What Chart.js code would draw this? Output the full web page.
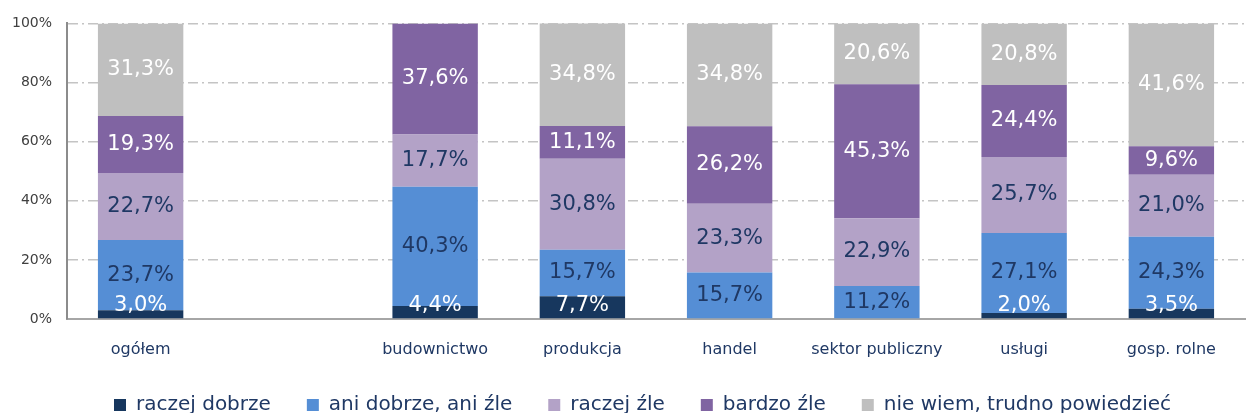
<!DOCTYPE html>
<html lang="pl">
<head>
<meta charset="utf-8">
<script src="https://cdn.jsdelivr.net/npm/chart.js@4/dist/chart.umd.min.js"></script>
<style>
  html, body { margin: 0; padding: 0; background: #fff; }
  #wrap { width: 1249px; height: 417px; }
</style>
</head>
<body>
<div id="wrap"><canvas id="chart"></canvas></div>
<script>
// Categories (empty slot after "ogółem")
const categories = ["ogółem", "", "budownictwo", "produkcja", "handel", "sektor publiczny", "usługi", "gosp. rolne"];

// Answer shares, %
const raczejDobrze = [3.0, null, 4.4, 7.7, 0, 0, 2.0, 3.5];
const aniDobrzeAniZle = [23.7, null, 40.3, 15.7, 15.7, 11.2, 27.1, 24.3];
const raczejZle = [22.7, null, 17.7, 30.8, 23.3, 22.9, 25.7, 21.0];
const bardzoZle = [19.3, null, 37.6, 11.1, 26.2, 45.3, 24.4, 9.6];
const nieWiem = [31.3, null, 0, 34.8, 34.8, 20.6, 20.8, 41.6];

const yTicks = [0, 20, 40, 60, 80, 100];

const NAVY = "#1f3864";

const series = [
    { label: "raczej dobrze", data: raczejDobrze, color: "#17375e", text: "#ffffff" },
    { label: "ani dobrze, ani źle", data: aniDobrzeAniZle, color: "#558ed5", text: NAVY },
    { label: "raczej źle", data: raczejZle, color: "#b3a2c7", text: NAVY },
    { label: "bardzo źle", data: bardzoZle, color: "#8064a2", text: "#ffffff" },
    { label: "nie wiem, trudno powiedzieć", data: nieWiem, color: "#bfbfbf", text: "#ffffff" }
];

// Percent labels inside every segment
const segmentLabels = {
    id: "segmentLabels",
    afterLayout(chart) {
        // nudge the legend row a bit to the right and up
        const lg = chart.legend;
        lg.left += 20;
        lg.right += 20;
        lg.top -= 4;
        lg.bottom -= 4;
    },
    afterDatasetsDraw(chart) {
        const ctx = chart.ctx;
        const bottom = chart.chartArea.bottom;
        ctx.save();
        ctx.font = "21px 'DejaVu Sans'";
        ctx.textAlign = "center";
        ctx.textBaseline = "middle";
        chart.data.datasets.forEach((ds, i) => {
            chart.getDatasetMeta(i).data.forEach((bar, j) => {
                const v = ds.data[j];
                if (!v) return;
                let y = (bar.y + bar.base) / 2;
                y = Math.min(y, bottom - 13);
                ctx.fillStyle = series[i].text;
                ctx.fillText(v.toFixed(1).replace(".", ",") + "%", bar.x, y);
            });
        });
        ctx.restore();
    }
};

new Chart(document.getElementById("chart"), {
    type: "bar",
    data: {
        labels: categories,
        datasets: series.map(s => ({
            label: s.label,
            data: s.data,
            backgroundColor: s.color,
            borderWidth: 0,
            categoryPercentage: 1,
            barPercentage: 0.58
        }))
    },
    options: {
        responsive: true,
        maintainAspectRatio: false,
        animation: false,
        layout: { padding: { top: 18, right: 4, left: 0, bottom: 0 } },
        plugins: {
            legend: {
                position: "bottom",
                maxHeight: 54,
                labels: {
                    font: { family: "'DejaVu Sans'", size: 20 },
                    color: NAVY,
                    boxWidth: 12,
                    boxHeight: 12,
                    padding: 36
                }
            },
            tooltip: { enabled: false }
        },
        scales: {
            x: {
                stacked: true,
                grid: { display: false },
                border: { display: true, color: "#a6a6a6", width: 2 },
                afterFit: scale => { scale.height = 44; },
                ticks: {
                    font: { family: "'DejaVu Sans'", size: 16 },
                    color: NAVY,
                    padding: 13
                }
            },
            y: {
                stacked: true,
                min: 0,
                max: 100,
                afterBuildTicks: scale => {
                    scale.ticks = yTicks.map(v => ({ value: v }));
                },
                afterFit: scale => { scale.width = 67; },
                grid: {
                    color: ctx => ctx.tick && ctx.tick.value === 0 ? "rgba(0,0,0,0)" : "#c4c4c4",
                    lineWidth: 1.5,
                    drawTicks: false
                },
                border: { display: true, color: "#8c8c8c", width: 2, dash: [10, 4, 2, 4] },
                ticks: {
                    font: { family: "'DejaVu Sans'", size: 14 },
                    color: "#404040",
                    padding: 15,
                    callback: v => v + "%"
                }
            }
        }
    },
    plugins: [segmentLabels]
});
</script>
</body>
</html>
